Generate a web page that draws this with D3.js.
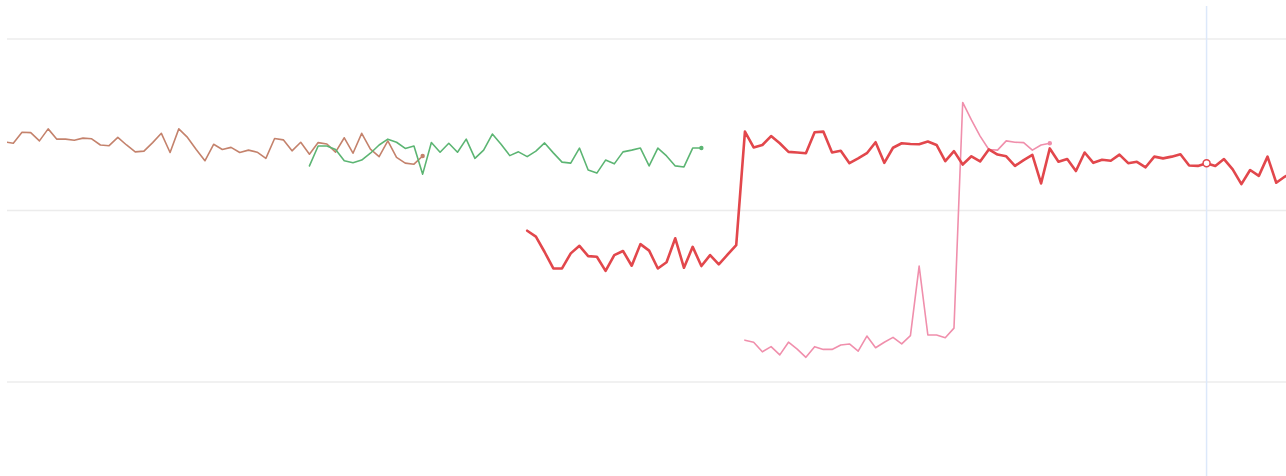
<!DOCTYPE html>
<html><head><meta charset="utf-8">
<script src="https://cdn.jsdelivr.net/npm/d3@7"></script>
<style>html,body{margin:0;padding:0;background:#fff;}svg{display:block;}</style>
</head><body>
<svg id="chart" width="1286" height="476"></svg>
<script>
// time index axis (one step per sample)
const brownStart = -1;
const brownValues = [70.0,69.6,72.8,72.7,70.3,73.8,70.8,70.8,70.5,71.1,70.9,69.1,68.9,71.3,69.1,67.1,67.3,69.8,72.5,66.9,73.8,71.3,67.8,64.5,69.3,67.8,68.4,66.9,67.6,67.0,65.2,71.0,70.6,67.4,69.9,66.4,69.8,69.4,67.0,71.2,66.7,72.5,67.9,65.7,70.3,65.5,63.8,63.5,65.9];
const greenStart = 34;
const greenValues = [63.0,68.8,68.8,67.8,64.5,63.9,64.7,66.7,69.1,70.8,69.9,68.1,68.8,60.6,69.8,67.0,69.6,67.0,70.8,65.2,67.6,72.3,69.3,66.0,67.1,65.7,67.3,69.7,66.8,64.1,63.8,68.2,61.8,60.9,64.7,63.6,67.1,67.6,68.2,63.0,68.2,65.9,63.0,62.7,68.2,68.2];
const redStart = 59;
const redValues = [44.1,42.4,37.9,33.1,33.1,37.5,39.7,36.7,36.5,32.4,37.0,38.2,33.9,40.2,38.3,33.1,34.9,41.9,33.3,39.4,33.8,37.0,34.3,37.1,39.9,
73.0,68.4,69.1,71.7,69.6,67.1,66.9,66.7,72.8,73.0,66.9,67.4,63.8,65.2,66.7,69.9,63.9,68.3,69.6,69.4,69.3,70.1,69.1,64.4,67.3,63.4,65.8,64.3,67.8,66.3,65.8,63.0,64.7,66.2,57.9,68.1,64.2,65.0,61.5,66.9,63.9,64.8,64.5,66.3,63.8,64.2,62.6,65.7,65.2,65.7,66.4,63.1,63.0,63.8,63.0,65.0,62.0,57.7,61.8,60.1,65.7,58.1,59.9,61.2];
const pinkStart = 84;
const pinkValues = [12.2,11.6,8.8,10.3,7.9,11.6,9.6,7.2,10.3,9.5,9.5,10.8,11.1,9.0,13.4,10.0,11.6,13.0,11.1,13.5,33.8,13.7,13.7,12.9,15.7,81.5,76.4,71.7,67.8,67.6,70.3,69.9,69.8,67.6,69.1,69.6];
const yTicks = [0, 50, 100];
const hoverIndex = 137;

const svg = d3.select("#chart");
const W = 1286, H = 476;
const plotLeft = 7, plotRight = 1286;
const x = d3.scaleLinear().domain([0, 146]).range([13.3, 1284.96]);
const y = d3.scaleLinear().domain([0, 100]).range([382, 39]);

svg.append("defs").append("clipPath").attr("id","clip")
  .append("rect").attr("x", plotLeft).attr("y", 0).attr("width", plotRight - plotLeft).attr("height", H);

// gridlines
svg.append("g").selectAll("line").data(yTicks).join("line")
  .attr("x1", plotLeft).attr("x2", plotRight)
  .attr("y1", d => y(d)).attr("y2", d => y(d))
  .attr("stroke", "#ececec").attr("stroke-width", 1.5);

// hover line
svg.append("line").attr("x1", x(hoverIndex)).attr("x2", x(hoverIndex))
  .attr("y1", 6).attr("y2", H).attr("stroke", "#dce8fa").attr("stroke-width", 1.5);

const toPts = (start, vals) => vals.map((v, i) => ({t: start + i, v}));
const line = d3.line().x(d => x(d.t)).y(d => y(d.v));
const g = svg.append("g").attr("clip-path", "url(#clip)");

const series = [
  {pts: toPts(brownStart, brownValues), color: "#c4826c", w: 1.6, endDot: true},
  {pts: toPts(greenStart, greenValues), color: "#5cb573", w: 1.6, endDot: true},
  {pts: toPts(pinkStart, pinkValues), color: "#f08fac", w: 1.6, endDot: true},
  {pts: toPts(redStart, redValues), color: "#e2474c", w: 2.6, endDot: false}
];
series.forEach(s => {
  g.append("path").datum(s.pts).attr("d", line)
    .attr("fill", "none").attr("stroke", s.color).attr("stroke-width", s.w)
    .attr("stroke-linejoin", "round").attr("stroke-linecap", "round");
  if (s.endDot) {
    const last = s.pts[s.pts.length - 1];
    g.append("circle").attr("cx", x(last.t)).attr("cy", y(last.v)).attr("r", 2.2).attr("fill", s.color);
  }
});

// hover marker on red
const redPts = toPts(redStart, redValues);
const hp = redPts.find(d => d.t === hoverIndex);
svg.append("circle").attr("cx", x(hp.t)).attr("cy", y(hp.v)).attr("r", 3.5)
  .attr("fill", "#fff").attr("stroke", "#e2474c").attr("stroke-width", 1.5);
</script>
</body></html>
